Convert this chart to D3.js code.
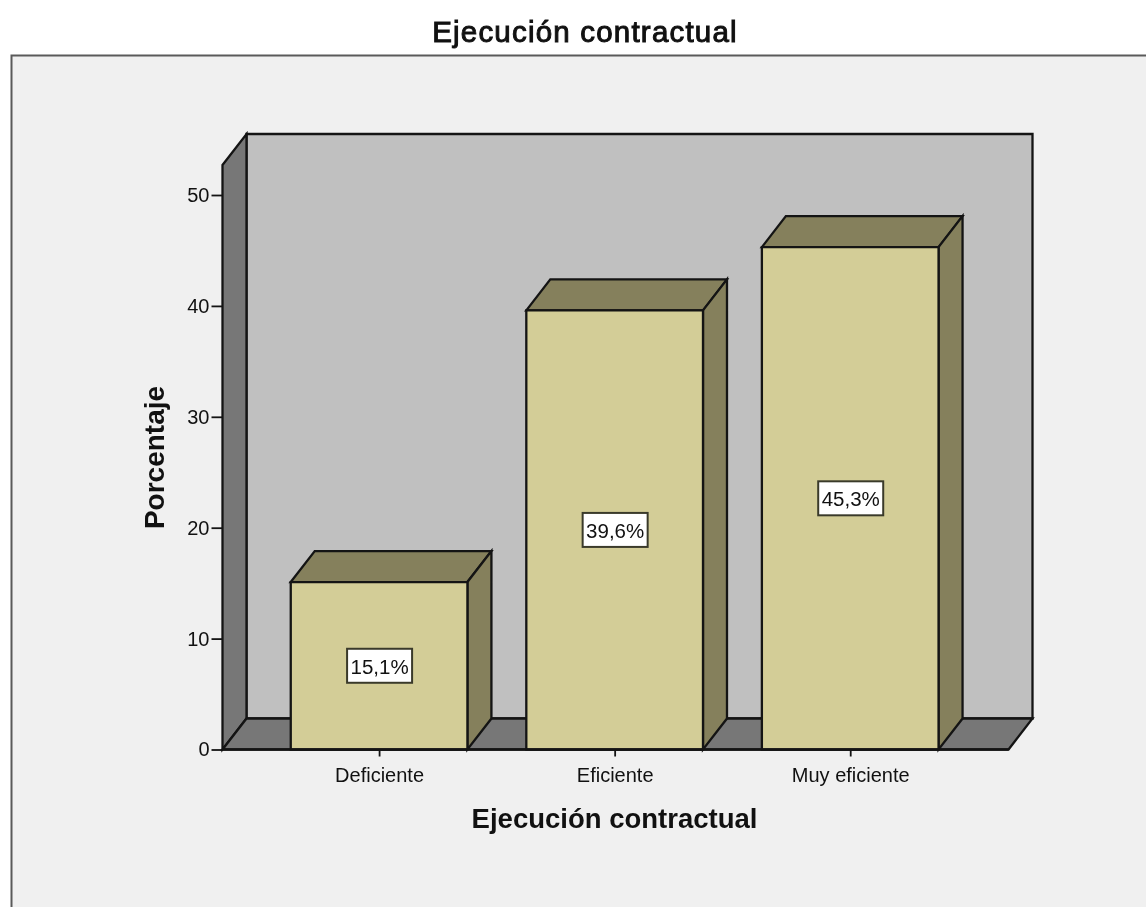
<!DOCTYPE html>
<html><head><meta charset="utf-8">
<script src="https://cdn.jsdelivr.net/npm/d3@7"></script>
<style>html,body{margin:0;padding:0;background:#fff;overflow:hidden}svg{display:block;filter:blur(.4px)}text{font-family:"Liberation Sans",Arial,sans-serif;fill:#111}</style>
</head><body><svg id="c" width="1146" height="907"></svg>
<script>
const categories = ["Deficiente","Eficiente","Muy eficiente"];
const values = [15.1,39.6,45.3];
const valueLabels = ["15,1%","39,6%","45,3%"];
const yTicks = [0,10,20,30,40,50];
const chartTitle = "Ejecución contractual";
const xTitle = "Ejecución contractual";
const yTitle = "Porcentaje";

const svg = d3.select("#c");
const dx = 24, dy = -31;
const y = d3.scaleLinear().domain([0,50]).range([749.5,195]);
const yMax = y.invert(165);
const x = d3.scaleBand().domain(categories).range([261.3,968]).paddingInner(.25).paddingOuter(.125);
const L = 222.5, R = 1008.5, Y0 = y(0), YT = y(yMax);
const INK = "#141414";
const poly = (pts,fill,sw=2.3) => svg.append("path").attr("d",d3.line()(pts)+"Z").attr("fill",fill).attr("stroke",INK).attr("stroke-width",sw).attr("stroke-linejoin","miter");

// panel
svg.append("rect").attr("x",11.5).attr("y",55.5).attr("width",1160).attr("height",880).attr("fill","#f0f0f0").attr("stroke","#5a5a5a").attr("stroke-width",2);

// title
svg.append("text").attr("x",585).attr("y",41.5).attr("text-anchor","middle").attr("font-size",29.5).attr("letter-spacing","1.2").attr("stroke","#111").attr("stroke-width",1).text(chartTitle);

// walls
poly([[L+dx,YT+dy],[R+dx,YT+dy],[R+dx,Y0+dy],[L+dx,Y0+dy]],"#c0c0c0");
poly([[L,YT],[L+dx,YT+dy],[L+dx,Y0+dy],[L,Y0]],"#777777");
poly([[L,Y0],[L+dx,Y0+dy],[R+dx,Y0+dy],[R,Y0]],"#777777");

// axis
const yAxis = d3.axisLeft(y).tickValues(yTicks).tickSize(11).tickPadding(2).tickFormat(d3.format("d"));
const gy = svg.append("g").attr("transform",`translate(${L},0)`).call(yAxis);
gy.select(".domain").remove();
gy.selectAll("line").attr("stroke",INK).attr("stroke-width",1.8);
gy.selectAll("text").attr("font-size",20).attr("fill","#111").attr("font-family",'"Liberation Sans",Arial,sans-serif');

const xAxis = d3.axisBottom(d3.scalePoint().domain(categories).range([x(categories[0])+x.bandwidth()/2,x(categories[2])+x.bandwidth()/2])).tickSize(7).tickPadding(11.3);
const gx = svg.append("g").attr("transform",`translate(0,${Y0})`).call(xAxis);
gx.select(".domain").remove();
gx.selectAll("line").attr("stroke",INK).attr("stroke-width",1.8);
gx.selectAll("text").attr("font-size",20).attr("fill","#111").attr("font-family",'"Liberation Sans",Arial,sans-serif');

// bars
categories.forEach((c,i)=>{
  const a=x(c), b=a+x.bandwidth(), t=y(values[i]);
  poly([[a,t],[a+dx,t+dy],[b+dx,t+dy],[b,t]],"#85805c");
  poly([[b,t],[b+dx,t+dy],[b+dx,Y0+dy],[b,Y0]],"#85805c");
  poly([[a,t],[b,t],[b,Y0],[a,Y0]],"#d3cd97");
});
// baseline
svg.append("line").attr("x1",L).attr("x2",R).attr("y1",Y0).attr("y2",Y0).attr("stroke",INK).attr("stroke-width",2.3);

// value labels
categories.forEach((c,i)=>{
  const cx=x(c)+x.bandwidth()/2, cy=y(values[i]/2);
  svg.append("rect").attr("x",cx-32).attr("y",cy-17).attr("width",65).attr("height",34).attr("fill","#fff").attr("stroke","#3a3a2a").attr("stroke-width",2);
  svg.append("text").attr("x",cx+.5).attr("y",cy+8).attr("text-anchor","middle").attr("font-size",20.5).text(valueLabels[i]);
});

// axis titles
svg.append("text").attr("x",614.5).attr("y",828).attr("text-anchor","middle").attr("font-size",27.5).attr("font-weight","bold").text(xTitle);
svg.append("text").attr("transform","translate(164,457.5) rotate(-90)").attr("text-anchor","middle").attr("font-size",28).attr("font-weight","bold").text(yTitle);
</script></body></html>
